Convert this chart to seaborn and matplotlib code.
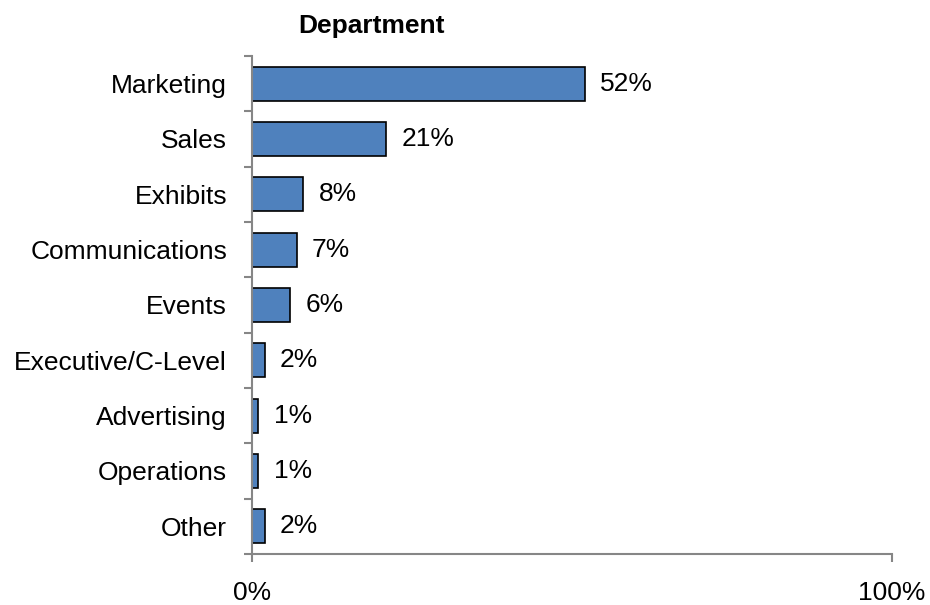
import numpy as np
import matplotlib
matplotlib.use("Agg")
import matplotlib.pyplot as plt
import seaborn as sns

departments = ["Marketing", "Sales", "Exhibits", "Communications", "Events",
               "Executive/C-Level", "Advertising", "Operations", "Other"]
shares = [52, 21, 8, 7, 6, 2, 1, 1, 2]
x_tick_values = [0, 100]
x_tick_labels = ["0%", "100%"]

sns.set_style("white")
plt.rcParams["font.family"] = ["Liberation Sans", "DejaVu Sans"]
plt.rcParams["text.color"] = "black"
plt.rcParams["xtick.labelcolor"] = "black"
plt.rcParams["ytick.labelcolor"] = "black"

FS = 19

fig = plt.figure(figsize=(9.3, 6.05), dpi=100)
ax = fig.add_axes([252 / 930, 1 - 554 / 605, 640 / 930, 498 / 605])

sns.barplot(x=shares, y=departments, orient="h", color="#4F81BD",
            saturation=1, edgecolor="black", linewidth=1.2, width=0.62, ax=ax)

ax.set_xlim(0, 100)
ax.set_ylim(len(departments) - 0.5, -0.5)

for i, v in enumerate(shares):
    ax.annotate(f"{v}%", xy=(v, i), xytext=(11, 0), textcoords="offset points",
                va="center", ha="left", fontsize=FS, color="black")

grey = "#868686"
for side in ["top", "right"]:
    ax.spines[side].set_visible(False)
for side in ["left", "bottom"]:
    ax.spines[side].set_color(grey)
    ax.spines[side].set_linewidth(1.5)

# category labels sit at bar centres; tick marks sit at the boundaries
ax.set_yticks(np.arange(len(departments)))
ax.set_yticklabels(departments)
ax.set_yticks(np.arange(-0.5, len(departments), 1), minor=True)
ax.tick_params(axis="y", which="major", length=0, pad=18, labelsize=FS,
               labelcolor="black")
ax.tick_params(axis="y", which="minor", direction="out", length=6,
               width=1.5, color=grey, left=True)

ax.set_xticks(x_tick_values)
ax.set_xticklabels(x_tick_labels)
ax.tick_params(axis="x", which="major", direction="out", length=6, width=1.5,
               color=grey, pad=13.5, labelsize=FS, labelcolor="black", bottom=True)

ax.set_xlabel("")
ax.set_ylabel("")

fig.text(371 / 930, 1 - 33 / 605, "Department", ha="center", va="baseline",
         fontsize=FS, fontweight="bold", color="black")

fig.savefig("out.png", dpi=100)
